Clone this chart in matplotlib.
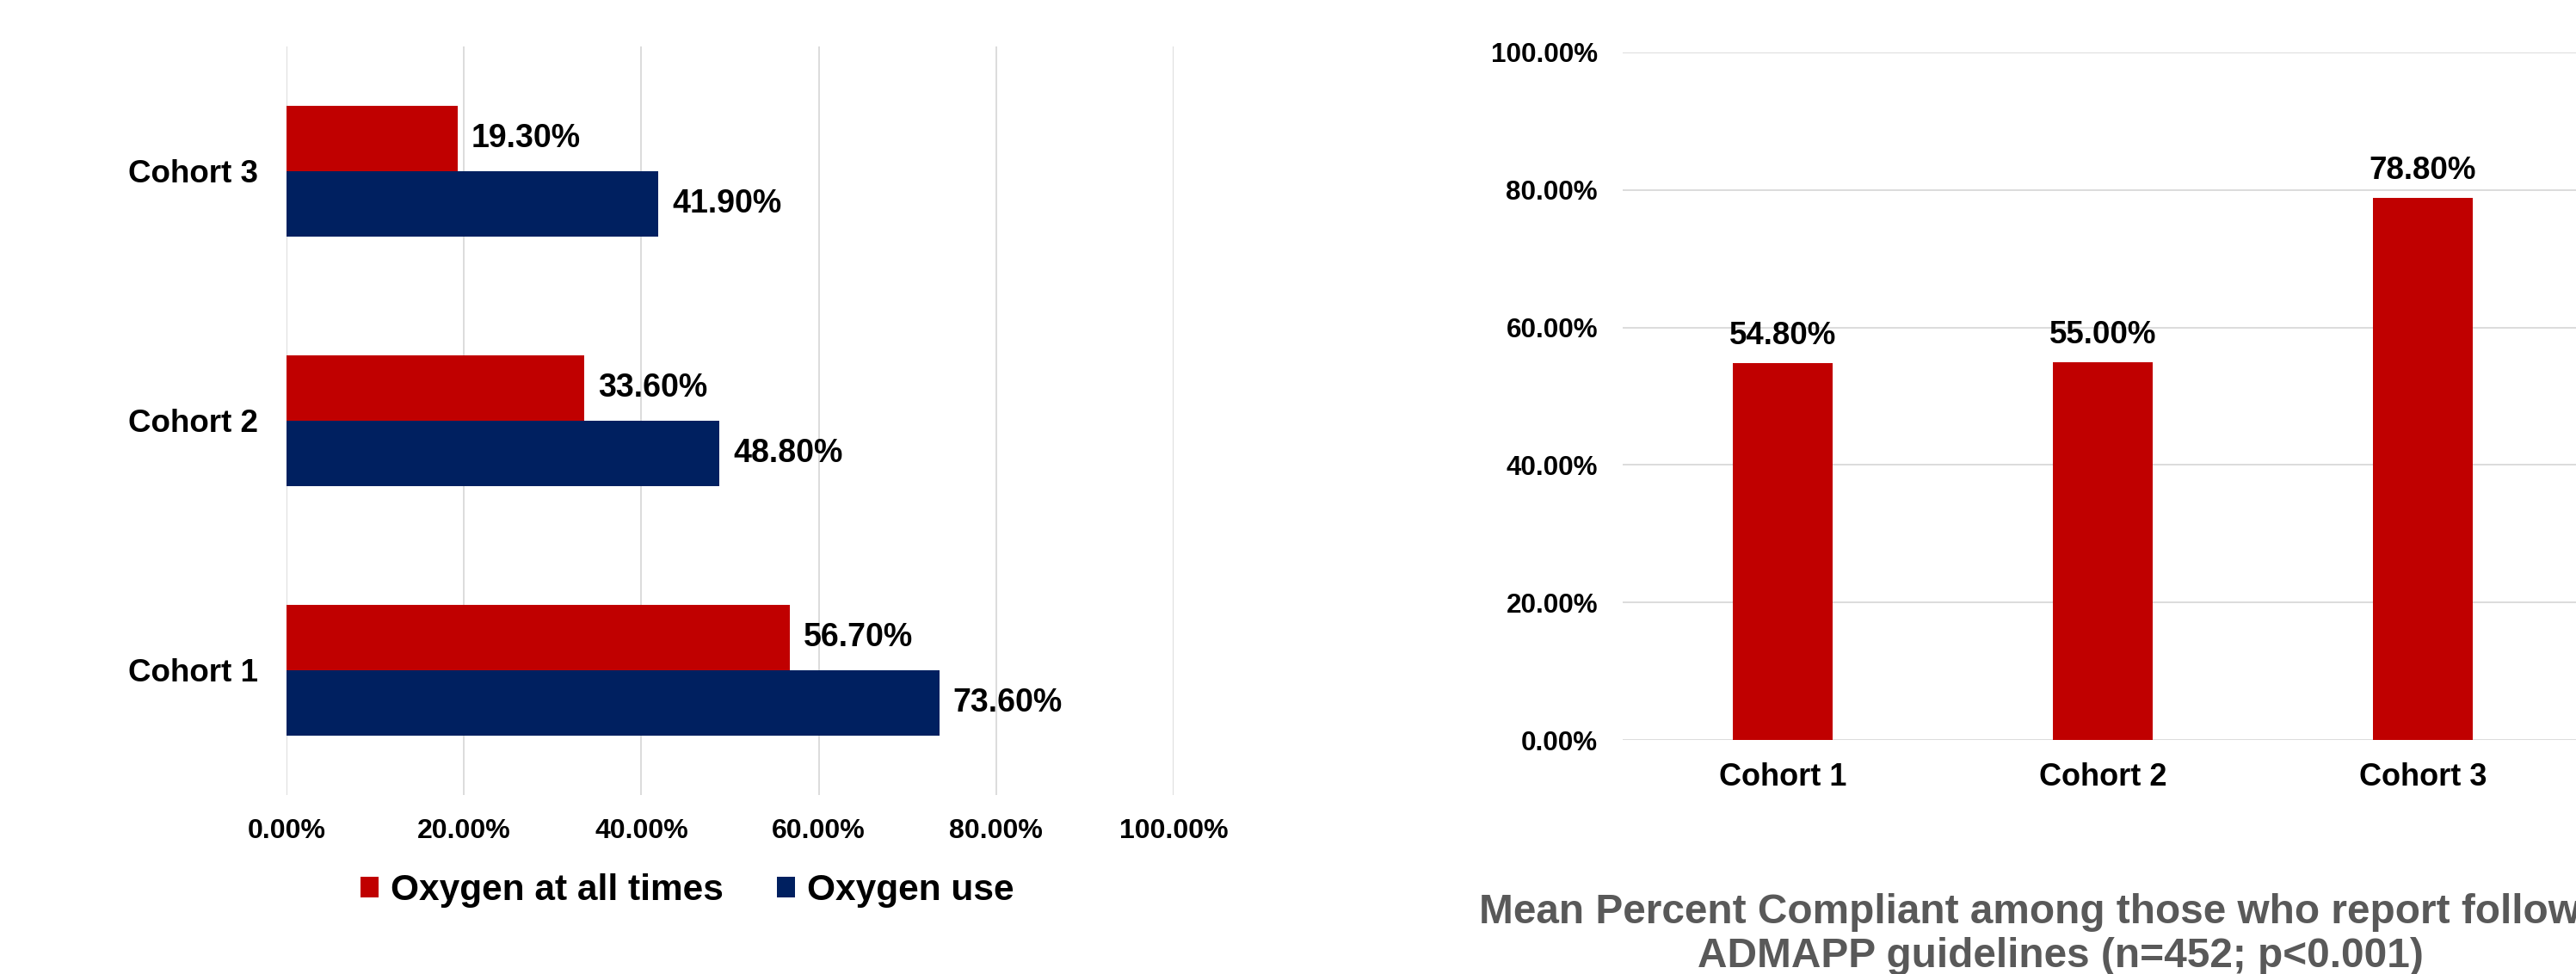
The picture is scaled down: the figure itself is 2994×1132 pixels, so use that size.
import numpy as np
import matplotlib
matplotlib.use("Agg")
import matplotlib.pyplot as plt
from matplotlib.patches import Patch

plt.rcParams['font.family'] = ['Liberation Sans', 'DejaVu Sans']
plt.rcParams['font.weight'] = 'bold'

########################
# data

cohorts = ["Cohort 1", "Cohort 2", "Cohort 3"]
oxygen_all_times = [0.567, 0.336, 0.193]
oxygen_use = [0.736, 0.488, 0.419]
compliant = [0.548, 0.550, 0.788]

pct_ticks = [0.0, 0.2, 0.4, 0.6, 0.8, 1.0]
legend_labels = ["Oxygen at all times", "Oxygen use"]
title_lines = ["Mean Percent Compliant among those who report following",
               "ADMAPP guidelines (n=452; p<0.001)"]

RED = "#C00000"
NAVY = "#002060"
GRID = "#D9D9D9"

W, H = 2994, 1132
DPI = 100

def px(v):
    # pixels -> points
    return v * 72.0 / DPI

fig = plt.figure(figsize=(W / DPI, H / DPI), dpi=DPI)
fig.patch.set_facecolor("white")

def fig_rect(x0, y0, x1, y1):
    # pixel box (top-left origin) -> figure fraction rect
    return [x0 / W, 1 - y1 / H, (x1 - x0) / W, (y1 - y0) / H]

########################################################
# left chart: horizontal grouped bars

ax1 = fig.add_axes(fig_rect(333, 54, 1364, 924))
y = np.arange(len(cohorts))
h = 0.262
ax1.barh(y + h / 2, oxygen_all_times, height=h, color=RED, zorder=3)
ax1.barh(y - h / 2, oxygen_use, height=h, color=NAVY, zorder=3)

for yi, v in zip(y + h / 2, oxygen_all_times):
    ax1.annotate("{:.2f}%".format(v * 100), (v, yi), xytext=(px(16), 0),
                 textcoords="offset points", va="center", ha="left",
                 fontsize=27, fontweight="bold", color="black")
for yi, v in zip(y - h / 2, oxygen_use):
    ax1.annotate("{:.2f}%".format(v * 100), (v, yi), xytext=(px(16), 0),
                 textcoords="offset points", va="center", ha="left",
                 fontsize=27, fontweight="bold", color="black")

ax1.set_xlim(0, 1.0)
ax1.set_ylim(-0.5, 2.5)
ax1.set_xticks(pct_ticks)
ax1.set_xticklabels(["{:.2f}%".format(t * 100) for t in pct_ticks])
ax1.set_yticks(y)
ax1.set_yticklabels(cohorts)
ax1.tick_params(axis="x", length=0, pad=px(27), labelsize=23)
ax1.tick_params(axis="y", length=0, pad=px(33), labelsize=26.5)
ax1.grid(axis="x", color=GRID, linewidth=1.3, zorder=0)
for s in ax1.spines.values():
    s.set_visible(False)

handles = [Patch(facecolor=RED), Patch(facecolor=NAVY)]
fig.legend(handles, legend_labels, loc="center", ncol=2,
           bbox_to_anchor=(799 / W, 1 - 1035 / H), frameon=False,
           handlelength=0.5, handleheight=0.5,
           handletextpad=0.33, columnspacing=1.47,
           prop={"size": 30.5, "weight": "bold"})

########################################################
# right chart: vertical bars, runs past the right edge

ax2 = fig.add_axes(fig_rect(1886, 61, 3002, 860))
x = np.arange(len(cohorts))
ax2.bar(x, compliant, width=0.31, color=RED, zorder=3)
for xi, v in zip(x, compliant):
    ax2.annotate("{:.2f}%".format(v * 100), (xi, v), xytext=(0, px(14)),
                 textcoords="offset points", va="bottom", ha="center",
                 fontsize=26.5, fontweight="bold", color="black")

ax2.set_xlim(-0.5, 2.5)
ax2.set_ylim(0, 1.0)
ax2.set_yticks(pct_ticks)
ax2.set_yticklabels(["{:.2f}%".format(t * 100) for t in pct_ticks])
ax2.set_xticks(x)
ax2.set_xticklabels(cohorts)
ax2.tick_params(axis="y", length=0, pad=px(29), labelsize=22.6)
ax2.tick_params(axis="x", length=0, pad=px(26), labelsize=26)
ax2.grid(axis="y", color=GRID, linewidth=1.3, zorder=0)
ax2.set_axisbelow(True)
for s in ax2.spines.values():
    s.set_visible(False)

fig.text(2395 / W, 1 - 1086 / H, "\n".join(title_lines), ha="center",
         va="center", multialignment="center", fontsize=34.4,
         fontweight="bold", color="#595959", linespacing=1.15)

fig.savefig("out.png", dpi=DPI)
